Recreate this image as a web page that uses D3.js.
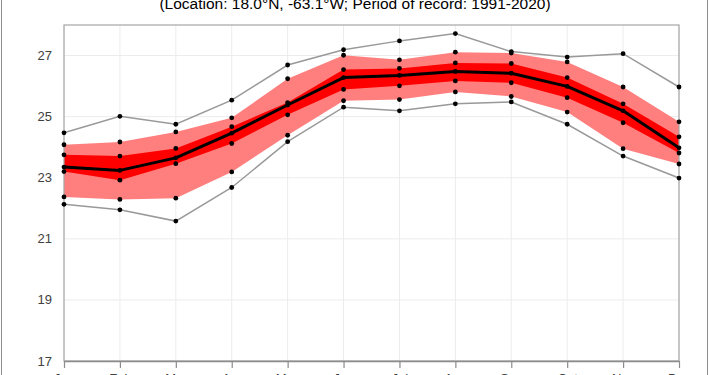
<!DOCTYPE html>
<html>
<head>
<meta charset="utf-8">
<script src="https://cdn.jsdelivr.net/npm/d3@7"></script>
<style>
  html, body { margin: 0; padding: 0; background: #fff; }
  svg { display: block; }
  .tick-label { font-family: 'Liberation Sans', Arial, sans-serif; font-size: 13px; fill: #404040; }
  .title { font-family: 'Liberation Sans', Arial, sans-serif; font-size: 15.5px; fill: #000; }
</style>
</head>
<body>
<svg id="chart" width="710" height="375"></svg>
<script>
const months = ['Jan', 'Feb', 'Mar', 'Apr', 'May', 'Jun', 'Jul', 'Aug', 'Sep', 'Oct', 'Nov', 'Dec'];
const yTicks = [17, 19, 21, 23, 25, 27];

const maxT = [24.47, 25.01, 24.75, 25.54, 26.69, 27.19, 27.48, 27.72, 27.13, 26.95, 27.06, 25.97];
const p90 = [24.08, 24.17, 24.50, 24.96, 26.24, 27.01, 26.86, 27.11, 27.08, 26.79, 25.97, 24.83];
const p75 = [23.75, 23.71, 23.96, 24.67, 25.46, 26.54, 26.58, 26.76, 26.74, 26.28, 25.42, 24.34];
const meanT = [23.35, 23.24, 23.65, 24.46, 25.38, 26.28, 26.35, 26.48, 26.42, 25.99, 25.19, 23.98];
const p25 = [23.20, 22.92, 23.46, 24.12, 25.06, 25.89, 26.01, 26.17, 26.11, 25.62, 24.80, 23.81];
const p10 = [22.37, 22.29, 22.33, 23.19, 24.39, 25.52, 25.56, 25.81, 25.66, 25.15, 23.95, 23.45];
const minT = [22.13, 21.95, 21.58, 22.68, 24.18, 25.31, 25.19, 25.42, 25.48, 24.75, 23.71, 22.99];

const svg = d3.select('#chart');
const plot = { left: 64, right: 679, top: 25, bottom: 361 };

const x = d3.scalePoint().domain(months).range([plot.left, plot.right]);
const y = d3.scaleLinear().domain([17, 28]).range([plot.bottom, plot.top]);

// outer chart border
svg.append('rect')
  .attr('x', 1.5).attr('y', -5)
  .attr('width', 706).attr('height', 400)
  .attr('fill', 'none')
  .attr('stroke', '#8c8c8c')
  .attr('stroke-width', 1);

// title (only the lower line shows in the frame)
svg.append('text')
  .attr('class', 'title')
  .attr('x', 355)
  .attr('y', 9)
  .attr('text-anchor', 'middle')
  .text('(Location: 18.0°N, -63.1°W; Period of record: 1991-2020)');

// gridlines
const grid = svg.append('g');
grid.selectAll('line.h')
  .data(yTicks)
  .join('line')
  .attr('x1', plot.left).attr('x2', plot.right)
  .attr('y1', (d) => y(d)).attr('y2', (d) => y(d))
  .attr('stroke', '#ececec');
grid.selectAll('line.v')
  .data(months)
  .join('line')
  .attr('x1', (d) => x(d)).attr('x2', (d) => x(d))
  .attr('y1', plot.top).attr('y2', plot.bottom)
  .attr('stroke', '#ececec');

const idx = d3.range(months.length);

// bands
const band = (lo, hi) => d3.area()
  .x((i) => x(months[i]))
  .y0((i) => y(lo[i]))
  .y1((i) => y(hi[i]));

svg.append('path').datum(idx).attr('d', band(p10, p90)).attr('fill', '#ff7f7f');
svg.append('path').datum(idx).attr('d', band(p25, p75)).attr('fill', '#ff0000');

// lines
const line = (vals) => d3.line()
  .x((i) => x(months[i]))
  .y((i) => y(vals[i]));

[maxT, minT].forEach((vals) => {
  svg.append('path').datum(idx)
    .attr('d', line(vals))
    .attr('fill', 'none')
    .attr('stroke', '#999')
    .attr('stroke-width', 1.5);
});

svg.append('path').datum(idx)
  .attr('d', line(meanT))
  .attr('fill', 'none')
  .attr('stroke', '#000')
  .attr('stroke-width', 3)
  .attr('stroke-linejoin', 'round');

// frame
svg.append('rect')
  .attr('x', plot.left).attr('y', plot.top)
  .attr('width', plot.right - plot.left)
  .attr('height', plot.bottom - plot.top)
  .attr('fill', 'none')
  .attr('stroke', '#a6a6a6')
  .attr('stroke-width', 1.2);

// dots
const dots = svg.append('g');
[maxT, p90, p75, meanT, p25, p10, minT].forEach((vals) => {
  dots.selectAll(null)
    .data(idx)
    .join('circle')
    .attr('cx', (i) => x(months[i]))
    .attr('cy', (i) => y(vals[i]))
    .attr('r', 2.4)
    .attr('fill', '#000');
});

// y axis labels
svg.selectAll('text.ylab')
  .data(yTicks)
  .join('text')
  .attr('class', 'tick-label')
  .attr('x', 52)
  .attr('y', (d) => y(d))
  .attr('dy', '0.35em')
  .attr('text-anchor', 'end')
  .text((d) => d);

// x axis
const xAxis = svg.append('g')
  .attr('transform', `translate(0,${plot.bottom})`)
  .call(d3.axisBottom(x).tickSize(7).tickSizeOuter(0).tickPadding(6));
xAxis.select('.domain').attr('stroke', '#8c8c8c').attr('stroke-width', 1.5);
xAxis.selectAll('.tick line').attr('stroke', '#8c8c8c').attr('stroke-width', 1.2);
xAxis.selectAll('.tick text')
  .attr('class', 'tick-label')
  .attr('fill', null);
</script>
</body>
</html>
